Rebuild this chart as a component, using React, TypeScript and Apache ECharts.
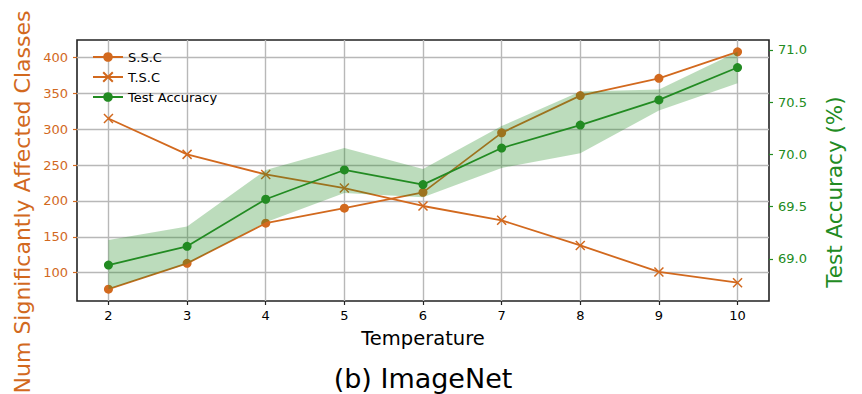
import React, { useEffect, useRef } from "react";
import * as echarts from "echarts";

const temps = [2, 3, 4, 5, 6, 7, 8, 9, 10];
const ssc = [77, 113, 169, 190, 212, 295, 347, 371, 408];
const tsc = [315, 265, 237, 218, 193, 173, 138, 101, 86];
const acc = [68.94, 69.12, 69.57, 69.85, 69.71, 70.06, 70.28, 70.52, 70.83];
const accUpper = [69.18, 69.31, 69.85, 70.06, 69.86, 70.27, 70.6, 70.62, 70.98];
const accLower = [68.71, 68.95, 69.35, 69.63, 69.59, 69.87, 70.01, 70.42, 70.68];
const xTicks = [2, 3, 4, 5, 6, 7, 8, 9, 10];
const leftTicks = [100, 150, 200, 250, 300, 350, 400];
const rightTicks = [69.0, 69.5, 70.0, 70.5, 71.0];

const ORANGE = "#D2691E";
const GREEN = "#228B22";
const FONT = "DejaVu Sans";

export default function App() {
  const ref = useRef<HTMLDivElement>(null);
  useEffect(() => {
    if (!ref.current) return;
    const chart = echarts.init(ref.current, null, { renderer: "svg" });
    const zip = (ys: number[]) => temps.map((t, i) => [t, ys[i]]);
    chart.setOption({
      animation: false,
      backgroundColor: "#ffffff",
      textStyle: { fontFamily: FONT },
      grid: {
        left: 77,
        top: 40,
        width: 692,
        height: 261,
        show: true,
        borderColor: "#222222",
        borderWidth: 1.6,
        backgroundColor: "transparent",
      },
      legend: {
        data: ["S.S.C", "T.S.C", "Test Accuracy"],
        orient: "vertical",
        left: 87,
        top: 45,
        itemWidth: 30,
        itemHeight: 12,
        itemGap: 6,
        textStyle: { fontSize: 13, color: "#000", fontFamily: FONT, lineHeight: 14 },
      },
      xAxis: {
        type: "value",
        min: 1.6,
        max: 10.4,
        axisLine: { show: false },
        axisTick: {
          show: true,
          length: 4,
          customValues: xTicks,
          lineStyle: { color: "#222", width: 1.2 },
        },
        axisLabel: {
          customValues: xTicks,
          fontSize: 13,
          color: "#000",
          margin: 8,
          fontFamily: FONT,
        },
        splitLine: { show: true, lineStyle: { color: "#b8b8b8", width: 1.4 } },
      },
      yAxis: [
        {
          type: "value",
          min: 60.5,
          max: 424.5,
          position: "left",
          axisLine: { show: false },
          axisTick: {
            show: true,
            length: 4,
            customValues: leftTicks,
            lineStyle: { color: ORANGE, width: 1.2 },
          },
          axisLabel: {
            customValues: leftTicks,
            fontSize: 13,
            color: ORANGE,
            margin: 9,
            fontFamily: FONT,
          },
          splitLine: { show: true, lineStyle: { color: "#b8b8b8", width: 1.4 } },
        },
        {
          type: "value",
          min: 68.5965,
          max: 71.0935,
          position: "right",
          axisLine: { show: false },
          axisTick: {
            show: true,
            length: 4,
            customValues: rightTicks,
            lineStyle: { color: GREEN, width: 1.2 },
          },
          axisLabel: {
            customValues: rightTicks,
            fontSize: 13,
            color: GREEN,
            margin: 9,
            fontFamily: FONT,
            formatter: (v: number) => v.toFixed(1),
          },
          splitLine: { show: false },
        },
      ],
      series: [
        {
          name: "S.S.C",
          type: "line",
          yAxisIndex: 0,
          data: zip(ssc),
          symbol: "circle",
          symbolSize: 9,
          color: ORANGE,
          itemStyle: { color: ORANGE },
          lineStyle: { width: 1.8, color: ORANGE },
          z: 2,
        },
        {
          name: "T.S.C",
          type: "line",
          yAxisIndex: 0,
          data: zip(tsc),
          symbol: "path://M0,0L10,10M10,0L0,10",
          symbolSize: 9,
          color: ORANGE,
          itemStyle: { color: ORANGE, borderColor: ORANGE, borderWidth: 1.5 },
          lineStyle: { width: 1.8, color: ORANGE },
          z: 2,
        },
        {
          name: "band",
          type: "custom",
          yAxisIndex: 1,
          data: [[temps[0], accLower[0]]],
          silent: true,
          z: 3,
          renderItem: (params: any, api: any) => {
            const up = temps.map((t, i) => api.coord([t, accUpper[i]]));
            const lo = temps
              .map((t, i) => api.coord([t, accLower[i]]))
              .reverse();
            return {
              type: "polygon",
              shape: { points: up.concat(lo) },
              style: { fill: "rgba(34,139,34,0.3)" },
            };
          },
        },
        {
          name: "Test Accuracy",
          type: "line",
          yAxisIndex: 1,
          data: zip(acc),
          symbol: "circle",
          symbolSize: 9,
          color: GREEN,
          itemStyle: { color: GREEN },
          lineStyle: { width: 1.8, color: GREEN },
          z: 4,
        },
      ],
      graphic: [
        {
          type: "text",
          x: 22,
          y: 202,
          rotation: Math.PI / 2,
          style: {
            text: "Num Significantly Affected Classes",
            fontSize: 22,
            fontFamily: FONT,
            fill: ORANGE,
            align: "center",
            verticalAlign: "middle",
            textAlign: "center",
            textVerticalAlign: "middle",
          },
        },
        {
          type: "text",
          x: 834,
          y: 192,
          rotation: Math.PI / 2,
          style: {
            text: "Test Accuracy (%)",
            fontSize: 21.5,
            fontFamily: FONT,
            fill: GREEN,
            align: "center",
            verticalAlign: "middle",
            textAlign: "center",
            textVerticalAlign: "middle",
          },
        },
        {
          type: "text",
          x: 423,
          y: 338,
          style: {
            text: "Temperature",
            fontSize: 19.5,
            fontFamily: FONT,
            fill: "#000",
            align: "center",
            verticalAlign: "middle",
            textAlign: "center",
            textVerticalAlign: "middle",
          },
        },
        {
          type: "text",
          x: 423,
          y: 378,
          style: {
            text: "(b) ImageNet",
            fontSize: 27,
            fontFamily: FONT,
            fill: "#000",
            align: "center",
            verticalAlign: "middle",
            textAlign: "center",
            textVerticalAlign: "middle",
          },
        },
      ],
    });
    return () => chart.dispose();
  }, []);
  return (
    <div
      ref={ref}
      style={{ position: "fixed", left: 0, top: 0, width: 862, height: 394 }}
    />
  );
}
